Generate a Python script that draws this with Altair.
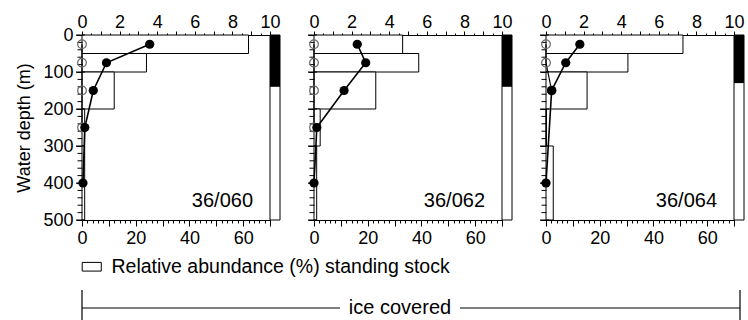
import altair as alt
import pandas as pd

FONT = "Liberation Sans"
FS = 18

stations = ["36/060", "36/062", "36/064"]

# depth intervals sampled by the net (m)
bin_top = [0, 50, 100, 200, 300]
bin_bottom = [50, 100, 200, 300, 500]

# relative abundance (%) of the standing stock per depth interval (bottom axis)
abundance = [
    [62, 24, 12, 1, 1],
    [33, 39, 23, 2.3, 1],
    [51, 30.5, 15.3, 0, 2.7],
]

# standing stock, filled symbols (top axis, 0-10)
stock_depth = [[25, 75, 150, 250, 400], [25, 75, 150, 250, 400], [25, 75, 150, 400]]
stock_value = [[3.6, 1.3, 0.6, 0.15, 0.05], [2.3, 2.75, 1.6, 0.15, 0.0], [1.8, 1.05, 0.3, 0.0]]

# open symbols (top axis, 0-10)
open_depth = [[25, 75, 150, 250], [25, 75, 150, 250], [25, 75, 150]]
open_value = [[0.0, 0.0, 0.0, 0.0], [0.0, 0.0, 0.0, 0.0], [0.0, 0.0, 0.3]]

# depth range of the black bar beside each profile (m)
ice_top = [0, 0, 0]
ice_bottom = [140, 140, 130]

# tick positions along the depth axis (m)
depth_major = [0, 100, 200, 300, 400, 500]
depth_minor = [20, 40, 60, 80, 120, 140, 160, 180, 220, 240, 260, 280,
               320, 340, 360, 380, 420, 440, 460, 480]

LEGEND_LABEL = "Relative abundance (%) standing stock"
BRACKET_LABEL = "ice covered"

W = 188          # plot width of one profile
H = 185          # plot height
STRIP_PX = 10    # width of the bar beside each profile
PCT_MAX = 70     # bottom axis maximum
STOCK_MAX = 10   # top axis maximum
K = PCT_MAX / STOCK_MAX  # top-axis unit expressed on the shared x scale

y_scale = alt.Scale(domain=[0, 500], reverse=True, nice=False, zero=False)
x_scale = alt.Scale(domain=[0, PCT_MAX], nice=False, zero=False)

common_axis = dict(
    grid=False,
    labelFont=FONT,
    labelFontSize=FS,
    labelColor="black",
    domain=True,
    domainColor="black",
    tickColor="black",
    tickWidth=1,
    tickOpacity=1,
    labelOverlap=False,
    labelFlush=False,
)


def bottom_axis():
    return alt.Axis(
        orient="bottom",
        title=None,
        values=list(range(0, PCT_MAX + 1, 2)),
        labelExpr="datum.value % 20 == 0 ? format(datum.value, 'd') : ''",
        tickSize={"condition": {"test": "datum.value % 10 == 0", "value": 6}, "value": 3},
        labelPadding=3,
        **common_axis,
    )


def top_axis():
    return alt.Axis(
        orient="top",
        title=None,
        values=[k * K / 2 for k in range(0, 2 * STOCK_MAX + 1)],
        labelExpr=f"abs(datum.value / {K} - round(datum.value / {K} / 2) * 2) < 0.01 "
                  f"? format(datum.value / {K}, 'd') : ''",
        tickSize={"condition": {"test": f"abs(datum.value / {K} - round(datum.value / {K})) < 0.01",
                                "value": 4}, "value": 2},
        labelPadding=0,
        **common_axis,
    )


def y_axis(first):
    return alt.Axis(
        orient="left",
        title="Water depth (m)" if first else None,
        values=depth_major,
        labelExpr=("format(datum.value, 'd')" if first else "''"),
        ticks=True,
        tickSize=6,
        labelPadding=3,
        titleFont=FONT,
        titleFontSize=FS,
        titleFontWeight="normal",
        titleColor="black",
        titlePadding=9,
        **common_axis,
    )


def panel(i):
    first = i == 0
    bars_df = pd.DataFrame({
        "top": bin_top,
        "bottom": bin_bottom,
        "start": [0] * len(bin_top),
        "pct": abundance[i],
        "kind": [LEGEND_LABEL] * len(bin_top),
    })
    fill_legend = alt.Legend(
        title=None,
        orient="none",
        legendX=0,
        legendY=H + 37,
        padding=0,
        direction="horizontal",
        symbolType="M-1.1,-0.5H1.1V0.5H-1.1Z",
        symbolSize=300,
        symbolStrokeColor="black",
        symbolStrokeWidth=1,
        symbolFillColor="white",
        labelFont=FONT,
        labelFontSize=19.5,
        labelColor="black",
        labelOffset=10,
        labelLimit=600,
    ) if first else None

    bars = alt.Chart(bars_df).mark_rect(stroke="black", strokeWidth=1).encode(
        x=alt.X("start:Q", scale=x_scale, axis=bottom_axis()),
        x2="pct:Q",
        y=alt.Y("top:Q", scale=y_scale, axis=y_axis(first)),
        y2="bottom:Q",
        fill=alt.Fill("kind:N", scale=alt.Scale(range=["white"]), legend=fill_legend),
    )

    # depth ticks drawn along the left frame
    maj_df = pd.DataFrame({"d": depth_major, "x0": [0] * len(depth_major)})
    min_df = pd.DataFrame({"d": depth_minor, "x0": [0] * len(depth_minor)})
    maj_ticks = alt.Chart(maj_df).mark_tick(
        orient="horizontal", size=9, thickness=1, color="black", opacity=1, xOffset=-1.5
    ).encode(x=alt.X("x0:Q", scale=x_scale, axis=None),
             y=alt.Y("d:Q", scale=y_scale, axis=None))
    min_ticks = alt.Chart(min_df).mark_tick(
        orient="horizontal", size=5, thickness=1, color="black", opacity=1, xOffset=-2
    ).encode(x=alt.X("x0:Q", scale=x_scale, axis=None),
             y=alt.Y("d:Q", scale=y_scale, axis=None))

    stock_df = pd.DataFrame({"depth": stock_depth[i], "v": stock_value[i]})
    open_df = pd.DataFrame({"depth": open_depth[i], "v": open_value[i]})
    ys = alt.Y("depth:Q", scale=y_scale, axis=None)

    def top_x(axis):
        return alt.X("xv:Q", scale=x_scale, axis=axis)

    open_line = alt.Chart(open_df).transform_calculate(xv=f"datum.v * {K}").mark_line(
        color="black", strokeWidth=1.2
    ).encode(x=top_x(None), y=ys, order="depth:Q")
    open_pts = alt.Chart(open_df).transform_calculate(xv=f"datum.v * {K}").mark_point(
        shape="circle", filled=False, size=75, stroke="#666666", strokeWidth=1.2, opacity=1
    ).encode(x=top_x(None), y=ys)
    stock_line = alt.Chart(stock_df).transform_calculate(xv=f"datum.v * {K}").mark_line(
        color="black", strokeWidth=1.6
    ).encode(x=top_x(top_axis()), y=ys, order="depth:Q")
    stock_pts = alt.Chart(stock_df).transform_calculate(xv=f"datum.v * {K}").mark_point(
        shape="circle", filled=True, size=85, color="black", opacity=1
    ).encode(x=top_x(None), y=ys)

    # black/white bar just right of the plot frame
    strip_df = pd.DataFrame({"top": [ice_top[i]], "bottom": [ice_bottom[i]]})
    strip_w = STRIP_PX * PCT_MAX / W
    strip_frame = alt.Chart(pd.DataFrame({"top": [0], "bottom": [500]})).mark_rect(
        fill="white", stroke="black", strokeWidth=1
    ).encode(
        x=alt.X("a:Q", scale=x_scale, axis=None), x2="b:Q",
        y=alt.Y("top:Q", scale=y_scale, axis=None), y2="bottom:Q",
    ).transform_calculate(a=f"{PCT_MAX}", b=f"{PCT_MAX + strip_w}")
    strip = alt.Chart(strip_df).mark_rect(color="black").encode(
        x=alt.X("a:Q", scale=x_scale, axis=None), x2="b:Q",
        y=alt.Y("top:Q", scale=y_scale, axis=None), y2="bottom:Q",
    ).transform_calculate(a=f"{PCT_MAX}", b=f"{PCT_MAX + strip_w}")

    label = alt.Chart(pd.DataFrame({"station": [stations[i]]})).mark_text(
        font=FONT, fontSize=20, align="right", baseline="alphabetic", color="black"
    ).encode(text="station:N", x=alt.value(W - 17), y=alt.value(H - 13))

    layers = [bars, strip_frame, strip, maj_ticks, min_ticks,
              open_line, open_pts, stock_line, stock_pts, label]

    if first:
        # bracket under the three profiles
        lab = pd.DataFrame({"t": [BRACKET_LABEL]})
        y_line = H + 88
        seg_l = alt.Chart(lab).mark_rule(color="black", strokeWidth=1.2).encode(
            x=alt.value(0), x2=alt.value(258), y=alt.value(y_line))
        seg_r = alt.Chart(lab).mark_rule(color="black", strokeWidth=1.2).encode(
            x=alt.value(378), x2=alt.value(658), y=alt.value(y_line))
        end_l = alt.Chart(lab).mark_rule(color="black", strokeWidth=1.2).encode(
            x=alt.value(0), y=alt.value(H + 70), y2=alt.value(H + 104))
        end_r = alt.Chart(lab).mark_rule(color="black", strokeWidth=1.2).encode(
            x=alt.value(658), y=alt.value(H + 70), y2=alt.value(H + 104))
        txt = alt.Chart(lab).mark_text(
            font=FONT, fontSize=20, color="black", baseline="middle", align="center"
        ).encode(text="t:N", x=alt.value(318), y=alt.value(y_line))
        layers += [seg_l, seg_r, end_l, end_r, txt]

    return alt.layer(*layers).resolve_axis(x="independent", y="independent").properties(
        width=W, height=H
    )


chart = alt.hconcat(panel(0), panel(1), panel(2), spacing=44, bounds="flush").properties(
    padding={"left": 15, "top": 12, "right": 0, "bottom": 0}
).configure_view(
    stroke="black", strokeWidth=1
).configure(
    font=FONT, background="white"
)

chart.save("out.html", embed_options={"renderer": "svg", "actions": False})
